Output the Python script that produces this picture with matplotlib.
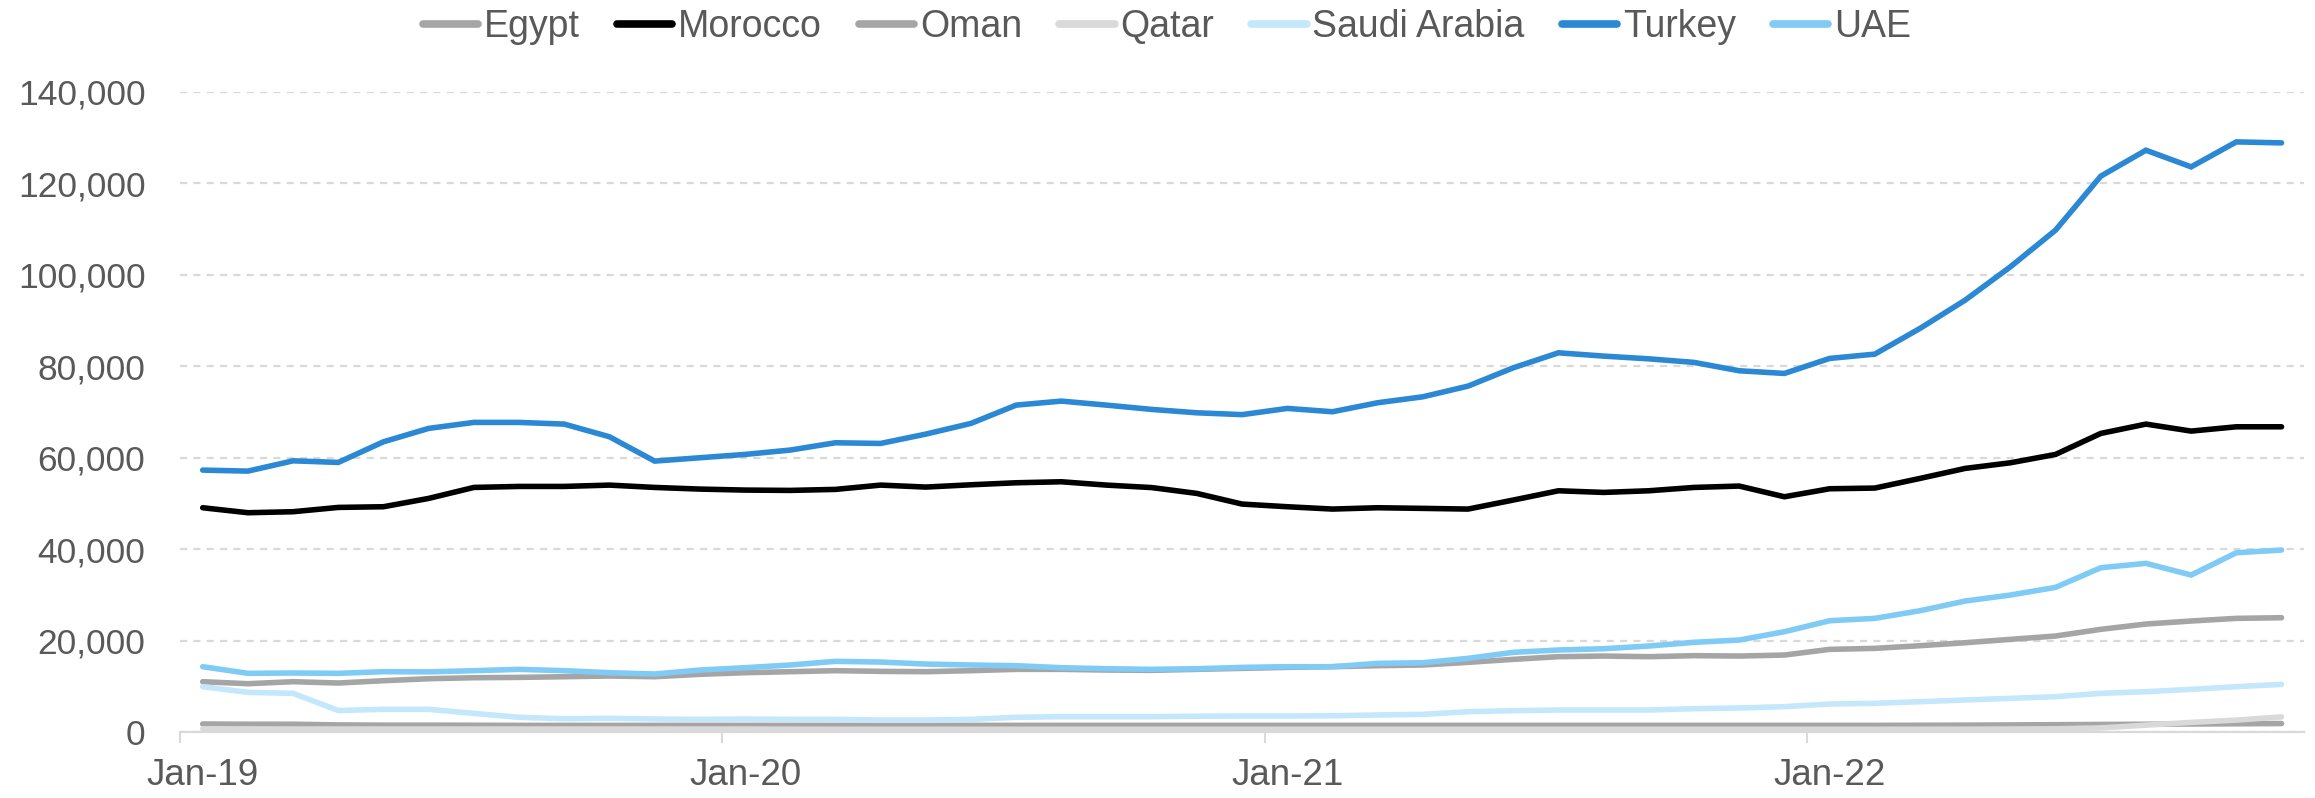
import matplotlib
matplotlib.use('Agg')
import matplotlib.pyplot as plt
from matplotlib.ticker import FuncFormatter
import numpy as np

plt.rcParams['font.family'] = ['Liberation Sans', 'DejaVu Sans']

# monthly series, Jan-19 .. Nov-22
months = ['Jan-19', 'Feb-19', 'Mar-19', 'Apr-19', 'May-19', 'Jun-19', 'Jul-19', 'Aug-19', 'Sep-19', 'Oct-19', 'Nov-19', 'Dec-19',
          'Jan-20', 'Feb-20', 'Mar-20', 'Apr-20', 'May-20', 'Jun-20', 'Jul-20', 'Aug-20', 'Sep-20', 'Oct-20', 'Nov-20', 'Dec-20',
          'Jan-21', 'Feb-21', 'Mar-21', 'Apr-21', 'May-21', 'Jun-21', 'Jul-21', 'Aug-21', 'Sep-21', 'Oct-21', 'Nov-21', 'Dec-21',
          'Jan-22', 'Feb-22', 'Mar-22', 'Apr-22', 'May-22', 'Jun-22', 'Jul-22', 'Aug-22', 'Sep-22', 'Oct-22', 'Nov-22']

egypt = [11000, 10560, 11000, 10710, 11220, 11650, 11870, 11940, 12090, 12240,
         12090, 12610, 12970, 13190, 13410, 13260, 13190, 13410, 13700, 13700,
         13550, 13480, 13700, 13920, 14130, 14280, 14500, 14650, 15230, 15890,
         16470, 16610, 16470, 16690, 16610, 16830, 18070, 18290, 18870, 19520,
         20260, 20990, 22450, 23610, 24270, 24850, 24990]
morocco = [49040, 47950, 48170, 49110, 49260, 51080, 53480, 53700, 53700, 53990,
           53480, 53120, 52900, 52830, 53050, 53990, 53560, 54060, 54500, 54720,
           53990, 53450, 52170, 49840, 49260, 48750, 49040, 48900, 48750, 50720,
           52750, 52390, 52750, 53480, 53780, 51440, 53190, 53340, 55450, 57640,
           58870, 60700, 65290, 67330, 65800, 66740, 66740]
oman = [1750, 1700, 1700, 1550, 1500, 1500, 1480, 1450, 1450, 1450,
        1450, 1450, 1450, 1450, 1450, 1450, 1450, 1450, 1450, 1450,
        1450, 1450, 1450, 1450, 1450, 1450, 1450, 1450, 1450, 1450,
        1450, 1450, 1450, 1450, 1450, 1450, 1450, 1450, 1480, 1500,
        1550, 1600, 1650, 1700, 1750, 1800, 1850]
qatar = [700, 680, 650, 650, 650, 650, 650, 650, 650, 650,
         650, 650, 650, 620, 600, 600, 600, 600, 600, 600,
         600, 600, 600, 600, 600, 600, 600, 600, 600, 600,
         600, 600, 600, 600, 600, 600, 600, 600, 600, 620,
         650, 700, 900, 1500, 2100, 2600, 3300]
saudi = [9900, 8670, 8450, 4700, 4960, 4960, 4080, 3210, 2900, 2990,
         2840, 2770, 2840, 2770, 2770, 2620, 2620, 2770, 3210, 3350,
         3350, 3350, 3450, 3500, 3500, 3550, 3720, 3860, 4440, 4660,
         4810, 4810, 4810, 5100, 5250, 5540, 6120, 6270, 6630, 7000,
         7360, 7720, 8450, 8810, 9330, 9910, 10420]
turkey = [57270, 57050, 59300, 58950, 63460, 66390, 67700, 67700, 67330, 64560,
          59240, 59970, 60700, 61650, 63250, 63100, 65140, 67480, 71480, 72360,
          71480, 70540, 69800, 69400, 70760, 70030, 72000, 73300, 75640, 79640,
          82920, 82200, 81600, 80820, 78990, 78410, 81690, 82630, 88250, 94440,
          101720, 109740, 121540, 127220, 123580, 129040, 128820]
uae = [14280, 12830, 12900, 12830, 13190, 13150, 13410, 13700, 13410, 12970,
       12680, 13550, 14060, 14650, 15450, 15300, 14860, 14650, 14500, 14060,
       13840, 13700, 13840, 14130, 14280, 14280, 15010, 15150, 16110, 17420,
       17930, 18210, 18800, 19610, 20110, 21930, 24330, 24850, 26520, 28640,
       29950, 31630, 35920, 36880, 34320, 39200, 39790]

names = ['Egypt', 'Morocco', 'Oman', 'Qatar', 'Saudi Arabia', 'Turkey', 'UAE']
series = [egypt, morocco, oman, qatar, saudi, turkey, uae]
colors = ['#A5A5A5', '#000000', '#A5A5A5', '#D9D9D9', '#C5E7FB', '#2B88D4', '#7FCBF6']

txt = '#595959'
x = np.arange(len(months))

fig = plt.figure(figsize=(23.15, 7.98), dpi=100)
ax = fig.add_axes([0.0778, 0.0827, 0.9175, 0.8023])

for name, vals, c in zip(names, series, colors):
    ax.plot(x, vals, color=c, lw=4.0, label=name, solid_capstyle='round', solid_joinstyle='miter')

ax.set_xlim(-0.5, len(months) - 0.5)
ax.set_ylim(0, 140000)
ax.set_yticks(np.arange(0, 140001, 20000))
ax.yaxis.set_major_formatter(FuncFormatter(lambda v, p: '{:,.0f}'.format(v)))

# year labels in the middle of January, tick marks on the year boundaries
jan = [i for i, m in enumerate(months) if m.startswith('Jan')]
ax.set_xticks(jan)
ax.set_xticklabels([months[i] for i in jan])
ax.set_xticks([i - 0.5 for i in jan], minor=True)

ax.tick_params(axis='y', length=0, pad=25, labelsize=25.5, labelcolor=txt)
ax.tick_params(axis='x', which='major', length=0, pad=19, labelsize=26.5, labelcolor=txt)
ax.tick_params(axis='x', which='minor', length=8, width=1.5, color='#D9D9D9')

ax.set_axisbelow(True)
ax.yaxis.grid(True, color='#D9D9D9', lw=1.6, ls=(0, (3.2, 2.8)))
for s in ['top', 'right', 'left']:
    ax.spines[s].set_visible(False)
ax.spines['bottom'].set_color('#D9D9D9')
ax.spines['bottom'].set_linewidth(1.6)

leg = fig.legend(loc='center', bbox_to_anchor=(0.504, 0.966), ncol=7, frameon=False,
                 fontsize=27, handlelength=1.47, handletextpad=0.15, columnspacing=1.0)
for t in leg.get_texts():
    t.set_color(txt)
for h in leg.get_lines():
    h.set_linewidth(5.5)

plt.savefig('out.png', dpi=100)
